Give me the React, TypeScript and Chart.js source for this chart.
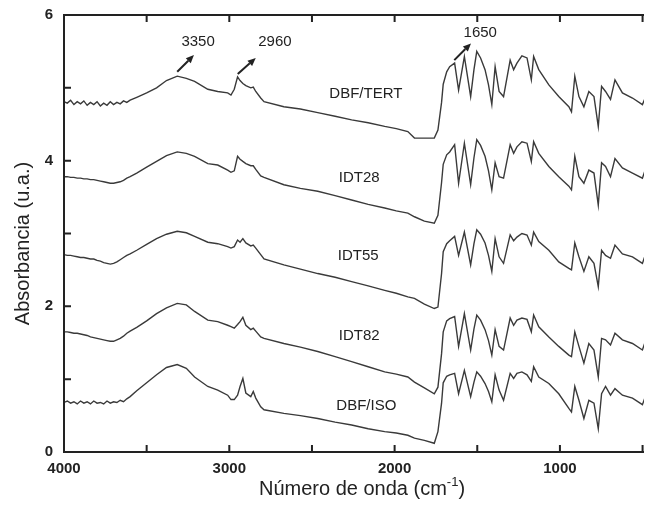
import { useEffect, useRef } from "react";
import { Chart, registerables } from "chart.js";

Chart.register(...registerables);

// Wavenumber grid (cm-1), shared by all spectra
const wavenumbers = [
  4000, 3980, 3960, 3940, 3920, 3900, 3880, 3860, 3840, 3820, 3800, 3780, 3760, 3740, 3720, 3700, 3680, 3660, 3640, 3620,
  3600, 3560, 3500, 3440, 3380, 3315, 3260, 3210, 3130, 3070, 3010,
  2990, 2970, 2950, 2935, 2918, 2900, 2870, 2855, 2840, 2810, 2790,
  2670, 2570, 2465, 2360, 2260, 2160, 2060, 1990, 1920, 1880, 1820, 1760, 1738,
  1716, 1706, 1685, 1667, 1637, 1613, 1578, 1540, 1520, 1503, 1480,
  1453, 1432, 1412, 1392, 1368, 1341, 1301, 1280, 1260, 1230, 1199, 1173, 1159,
  1128, 1067, 1007, 946, 930, 910, 885, 855, 825, 794,
  768, 748, 724, 694, 667, 622, 561, 501, 477, 440, 425,
];

const dbfTert = [
  4.81, 4.79, 4.83, 4.77, 4.81, 4.78, 4.82, 4.76, 4.80, 4.77, 4.81, 4.75, 4.79, 4.76, 4.81, 4.77, 4.80, 4.78, 4.82, 4.80,
  4.83, 4.87, 4.93, 5.00, 5.10, 5.16, 5.13, 5.09, 4.98, 4.95, 4.93,
  4.90, 4.98, 5.15, 5.10, 5.06, 5.03, 5.00, 5.01, 4.95, 4.86, 4.81,
  4.74, 4.71, 4.66, 4.61, 4.56, 4.52, 4.47, 4.44, 4.40, 4.31, 4.31, 4.31, 4.42,
  4.80, 5.05, 5.22, 5.29, 5.34, 4.97, 5.43, 4.88, 5.25, 5.50, 5.41,
  5.25, 5.04, 4.77, 5.29, 4.95, 4.88, 5.38, 5.25, 5.34, 5.44, 5.41, 5.11, 5.43,
  5.25, 5.04, 4.88, 4.74, 4.67, 5.16, 4.88, 4.74, 4.95, 4.88,
  4.47, 5.02, 4.95, 4.84, 5.11, 4.93, 4.86, 4.77, 4.90, 4.72, 4.70,
];

const idt28 = [
  3.78, 3.78, 3.77, 3.77, 3.76, 3.76, 3.75, 3.75, 3.74, 3.74, 3.73, 3.72, 3.71, 3.70, 3.69, 3.69, 3.70, 3.71, 3.73, 3.76,
  3.78, 3.83, 3.91, 3.99, 4.07, 4.12, 4.10, 4.06, 3.96, 3.94, 3.87,
  3.84, 3.86, 4.06, 4.02, 3.99, 3.96, 3.93, 3.93, 3.88, 3.79, 3.77,
  3.67, 3.62, 3.58, 3.52, 3.46, 3.40, 3.35, 3.31, 3.28, 3.23, 3.17, 3.14, 3.25,
  3.70, 3.95, 4.08, 4.12, 4.22, 3.69, 4.24, 3.67, 4.04, 4.29, 4.21,
  4.06, 3.86, 3.60, 3.97, 3.78, 3.76, 4.22, 4.10, 4.19, 4.26, 4.24, 3.99, 4.26,
  4.10, 3.92, 3.78, 3.65, 3.60, 4.06, 3.78, 3.69, 3.87, 3.83,
  3.39, 3.97, 3.92, 3.78, 4.03, 3.90, 3.83, 3.76, 3.92, 3.80, 3.78,
];

const idt55 = [
  2.71, 2.70, 2.70, 2.69, 2.68, 2.67, 2.67, 2.66, 2.65, 2.65, 2.63, 2.62, 2.60, 2.59, 2.58, 2.59, 2.61, 2.64, 2.67, 2.70,
  2.72, 2.77, 2.85, 2.93, 2.99, 3.03, 3.01, 2.96, 2.88, 2.86, 2.82,
  2.80, 2.82, 2.91, 2.88, 2.93, 2.87, 2.83, 2.84, 2.80, 2.71, 2.65,
  2.57, 2.51, 2.45, 2.40, 2.34, 2.28, 2.22, 2.18, 2.13, 2.11, 2.03, 1.97, 1.99,
  2.45, 2.75, 2.86, 2.90, 2.96, 2.70, 3.02, 2.57, 2.86, 3.05, 2.99,
  2.87, 2.70, 2.48, 2.93, 2.68, 2.59, 2.98, 2.90, 2.95, 3.00, 2.98, 2.84, 3.02,
  2.89, 2.77, 2.61, 2.52, 2.50, 2.87, 2.68, 2.48, 2.68, 2.59,
  2.27, 2.77, 2.70, 2.66, 2.84, 2.72, 2.68, 2.59, 2.75, 2.63, 2.62,
];

const idt82 = [
  1.65, 1.65, 1.64, 1.63, 1.63, 1.62, 1.61, 1.60, 1.58, 1.57, 1.56, 1.55, 1.54, 1.53, 1.52, 1.52, 1.54, 1.56, 1.59, 1.63,
  1.66, 1.71, 1.80, 1.90, 1.98, 2.04, 2.02, 1.93, 1.81, 1.79, 1.74,
  1.72, 1.70, 1.75, 1.79, 1.85, 1.74, 1.68, 1.70, 1.66, 1.58, 1.56,
  1.49, 1.44, 1.38, 1.31, 1.24, 1.17, 1.10, 1.07, 1.03, 0.96, 0.88, 0.80, 0.89,
  1.35, 1.65, 1.80, 1.83, 1.86, 1.45, 1.90, 1.40, 1.69, 1.88, 1.81,
  1.68, 1.53, 1.33, 1.68, 1.45, 1.40, 1.84, 1.74, 1.81, 1.84, 1.82, 1.65, 1.88,
  1.72, 1.58, 1.45, 1.33, 1.31, 1.65, 1.45, 1.22, 1.49, 1.40,
  1.03, 1.56, 1.54, 1.47, 1.63, 1.54, 1.49, 1.40, 1.56, 1.33, 1.31,
];

const dbfIso = [
  0.68, 0.70, 0.67, 0.69, 0.66, 0.70, 0.67, 0.69, 0.66, 0.70, 0.67, 0.68, 0.66, 0.70, 0.67, 0.69, 0.68, 0.71, 0.69, 0.73,
  0.76, 0.84, 0.95, 1.06, 1.16, 1.20, 1.15, 1.03, 0.90, 0.85, 0.78,
  0.72, 0.72, 0.78, 0.90, 1.01, 0.81, 0.76, 0.83, 0.74, 0.62, 0.58,
  0.53, 0.50, 0.46, 0.41, 0.37, 0.32, 0.28, 0.26, 0.23, 0.19, 0.16, 0.12, 0.28,
  0.67, 0.95, 1.04, 1.06, 1.08, 0.80, 1.12, 0.76, 0.96, 1.10, 1.04,
  0.94, 0.83, 0.69, 1.06, 0.85, 0.71, 1.08, 1.01, 1.08, 1.10, 1.06, 0.97, 1.17,
  1.03, 0.94, 0.80, 0.60, 0.55, 0.90, 0.71, 0.46, 0.71, 0.67,
  0.32, 0.80, 0.90, 0.78, 0.87, 0.78, 0.74, 0.65, 0.80, 0.67, 0.66,
];

const seriesNames = ["DBF/TERT", "IDT28", "IDT55", "IDT82", "DBF/ISO"];
const seriesValues = [dbfTert, idt28, idt55, idt82, dbfIso];
const seriesLabelX = [2174, 2214, 2220, 2214, 2171];
const seriesLabelY = [4.92, 3.77, 2.69, 1.59, 0.63];

const xTickLabels = [4000, 3000, 2000, 1000];
const xTickMarks = [3500, 3000, 2500, 2000, 1500, 1000, 500];
const yTickLabels = [0, 2, 4, 6];
const yTickMarks = [1, 2, 3, 4, 5];

const peakLabels = ["3350", "2960", "1650"];
const peakLabelX = [3189, 2724, 1482];
const peakLabelY = [5.63, 5.63, 5.76];
const arrowFromX = [3315, 2949, 1639];
const arrowFromY = [5.22, 5.19, 5.38];
const arrowToX = [3214, 2840, 1538];
const arrowToY = [5.45, 5.41, 5.61];

const FONT = "'Liberation Sans', Arial, Helvetica, sans-serif";
const INK = "#222222";

const framePlugin = {
  id: "frameAndNotes",
  afterDraw(chart: any) {
    const { ctx, chartArea, scales } = chart;
    const xs = scales.x;
    const ys = scales.y;
    const { left, right, top, bottom } = chartArea;
    ctx.save();
    ctx.strokeStyle = INK;
    ctx.fillStyle = INK;
    // frame
    ctx.lineWidth = 2;
    ctx.beginPath();
    ctx.moveTo(right + 2, top);
    ctx.lineTo(left, top);
    ctx.lineTo(left, bottom);
    ctx.lineTo(right + 2, bottom);
    ctx.stroke();
    // inward ticks
    const tl = 7;
    ctx.lineWidth = 2;
    ctx.beginPath();
    xTickMarks.forEach((v) => {
      const px = xs.getPixelForValue(v);
      ctx.moveTo(px, bottom);
      ctx.lineTo(px, bottom - tl);
      ctx.moveTo(px, top);
      ctx.lineTo(px, top + tl);
    });
    yTickMarks.forEach((v) => {
      const py = ys.getPixelForValue(v);
      ctx.moveTo(left, py);
      ctx.lineTo(left + tl, py);
      ctx.moveTo(right + 2, py);
      ctx.lineTo(right + 2 - tl, py);
    });
    ctx.stroke();

    // tick labels
    ctx.font = `bold 15px ${FONT}`;
    ctx.textAlign = "center";
    ctx.textBaseline = "middle";
    xTickLabels.forEach((v) => {
      ctx.fillText(String(v), xs.getPixelForValue(v), bottom + 17);
    });
    yTickLabels.forEach((v) => {
      ctx.fillText(String(v), left - 15, ys.getPixelForValue(v));
    });

    // series labels
    ctx.font = `15px ${FONT}`;
    seriesNames.forEach((name, i) => {
      ctx.fillText(name, xs.getPixelForValue(seriesLabelX[i]), ys.getPixelForValue(seriesLabelY[i]));
    });
    // peak labels and arrows
    peakLabels.forEach((lab, i) => {
      ctx.fillText(lab, xs.getPixelForValue(peakLabelX[i]), ys.getPixelForValue(peakLabelY[i]));
      const x0 = xs.getPixelForValue(arrowFromX[i]);
      const y0 = ys.getPixelForValue(arrowFromY[i]);
      const x1 = xs.getPixelForValue(arrowToX[i]);
      const y1 = ys.getPixelForValue(arrowToY[i]);
      const ang = Math.atan2(y1 - y0, x1 - x0);
      const hl = 8;
      const hw = 3.5;
      const bx = x1 - hl * Math.cos(ang);
      const by = y1 - hl * Math.sin(ang);
      ctx.lineWidth = 2;
      ctx.beginPath();
      ctx.moveTo(x0, y0);
      ctx.lineTo(bx, by);
      ctx.stroke();
      ctx.beginPath();
      ctx.moveTo(x1, y1);
      ctx.lineTo(bx + hw * Math.sin(ang), by - hw * Math.cos(ang));
      ctx.lineTo(bx - hw * Math.sin(ang), by + hw * Math.cos(ang));
      ctx.closePath();
      ctx.fill();
    });

    // y axis title
    ctx.save();
    ctx.translate(15, (top + bottom) / 2 + 10);
    ctx.rotate(-Math.PI / 2);
    ctx.font = `20px ${FONT}`;
    ctx.textAlign = "center";
    ctx.textBaseline = "middle";
    ctx.fillText("Absorbancia (u.a.)", 0, 0);
    ctx.restore();

    // x axis title with superscript
    const main = "Número de onda (cm";
    const sup = "-1";
    const end = ")";
    ctx.font = `20px ${FONT}`;
    const wMain = ctx.measureText(main).width;
    const wEnd = ctx.measureText(end).width;
    ctx.font = `13px ${FONT}`;
    const wSup = ctx.measureText(sup).width;
    const total = wMain + wSup + wEnd;
    const cx = (left + right) / 2 + 4;
    const cy = bottom + 37;
    let x = cx - total / 2;
    ctx.textAlign = "left";
    ctx.textBaseline = "middle";
    ctx.font = `20px ${FONT}`;
    ctx.fillText(main, x, cy);
    x += wMain;
    ctx.font = `13px ${FONT}`;
    ctx.fillText(sup, x, cy - 7);
    x += wSup;
    ctx.font = `20px ${FONT}`;
    ctx.fillText(end, x, cy);
    ctx.restore();
  },
};

export default function App() {
  const ref = useRef<HTMLCanvasElement | null>(null);
  useEffect(() => {
    if (!ref.current) return;
    const chart = new Chart(ref.current, {
      type: "line",
      data: {
        datasets: seriesNames.map((name, s) => ({
          label: name,
          data: wavenumbers.map((w, i) => ({ x: w, y: seriesValues[s][i] })),
          borderColor: "#3a3a3a",
          borderWidth: 1.4,
          pointRadius: 0,
          tension: 0,
          fill: false,
        })),
      },
      options: {
        responsive: false,
        animation: false,
        layout: { padding: { top: 7, left: 0, right: 0, bottom: 0 } },
        plugins: { legend: { display: false }, tooltip: { enabled: false } },
        scales: {
          x: {
            type: "linear",
            reverse: true,
            min: 443,
            max: 4000,
            afterFit: (s: any) => {
              s.height = 71;
            },
            grid: { display: false, drawTicks: false },
            border: { display: false },
            ticks: { display: false },
          },
          y: {
            type: "linear",
            min: 0,
            max: 6,
            afterFit: (s: any) => {
              s.width = 56;
            },
            grid: { display: false, drawTicks: false },
            border: { display: false },
            ticks: { display: false },
          },
        },
      },
      plugins: [framePlugin],
    } as any);
    return () => chart.destroy();
  }, []);
  return (
    <div style={{ width: 644, height: 515 }}>
      <canvas ref={ref} width={644} height={515} style={{ display: "block" }} />
    </div>
  );
}
